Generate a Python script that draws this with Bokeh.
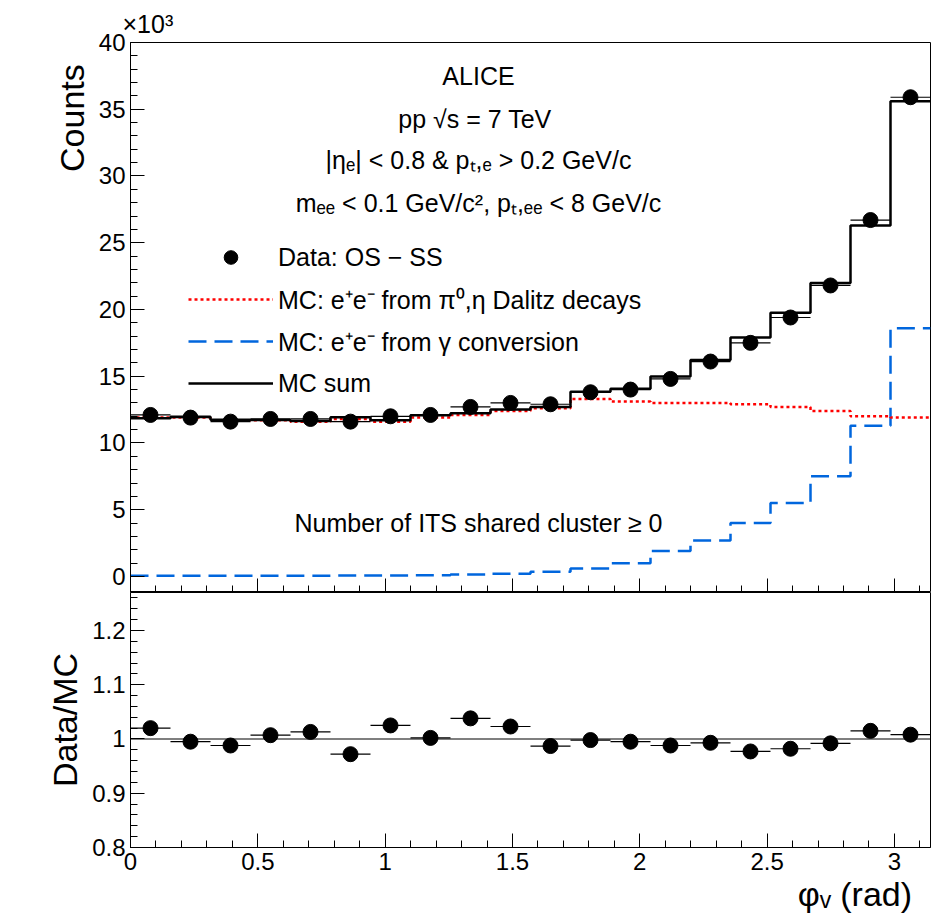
import numpy as np
from bokeh.plotting import figure
from bokeh.layouts import column
from bokeh.models import Label, Legend, LegendItem, Span, FixedTicker, Range1d
from bokeh.embed import file_html
from bokeh.resources import INLINE

data = [12.1, 11.9, 11.6, 11.8, 11.8, 11.6, 12.0, 12.1, 12.7, 13.0, 12.9, 13.8, 14.0, 14.8, 16.1, 17.5, 19.4, 21.8, 26.7, 35.9]
mcsum = [11.86, 11.96, 11.74, 11.72, 11.65, 11.93, 11.71, 12.08, 12.23, 12.5, 12.7, 13.83, 14.07, 14.98, 16.21, 17.91, 19.76, 21.98, 26.3, 35.6]
dalitz = [11.9, 11.9, 11.7, 11.7, 11.6, 11.8, 11.6, 11.9, 12.1, 12.4, 12.6, 13.3, 13.1, 13.0, 13.0, 12.9, 12.7, 12.4, 12.0, 11.9]
conv = [0.05, 0.05, 0.05, 0.05, 0.06, 0.07, 0.08, 0.1, 0.15, 0.2, 0.35, 0.6, 1.0, 1.9, 2.7, 4.0, 5.5, 7.5, 11.3, 18.6]
ratio = [1.02, 0.995, 0.988, 1.007, 1.013, 0.972, 1.025, 1.002, 1.038, 1.023, 0.987, 0.998, 0.995, 0.988, 0.993, 0.977, 0.982, 0.992, 1.015, 1.008]

nb = 20
edges = np.linspace(0, np.pi, nb + 1)
cent = 0.5 * (edges[1:] + edges[:-1])
FONT = "Liberation Sans"
NB = "\u00a0"

def steps(v):
    return np.repeat(edges, 2)[1:-1], np.repeat(np.array(v), 2)

def style(p, ticks):
    p.xaxis.ticker = FixedTicker(ticks=[0, 0.5, 1, 1.5, 2, 2.5, 3], minor_ticks=list(np.arange(0, 3.15, 0.1)))
    p.yaxis.ticker = FixedTicker(ticks=ticks[0], minor_ticks=ticks[1])
    for ax in p.axis:
        ax.major_label_text_font = FONT
        ax.major_label_text_font_size = "24px"
        ax.major_label_text_color = "black"
        ax.axis_label_text_font = FONT
        ax.axis_label_text_font_style = "normal"
        ax.axis_label_text_font_size = "34px"
        ax.axis_label_text_color = "black"
        ax.major_tick_in = 14; ax.major_tick_out = 0
        ax.minor_tick_in = 7; ax.minor_tick_out = 0
        ax.axis_line_color = "black"
        ax.major_tick_line_color = "black"
        ax.minor_tick_line_color = "black"
    p.grid.visible = False
    p.outline_line_color = "black"
    p.background_fill_color = "white"
    p.border_fill_color = "white"

# upper
p = figure(width=940, height=592, x_range=Range1d(0, np.pi), y_range=Range1d(-1.2, 40),
           output_backend="svg", toolbar_location=None, title="×10³",
           min_border_left=130, min_border_right=10, min_border_top=42, min_border_bottom=0)
p.title.text_font = FONT
p.title.text_font_size = "25px"
p.title.text_font_style = "normal"
p.title.text_color = "black"
p.title.offset = -8
style(p, ([0, 5, 10, 15, 20, 25, 30, 35, 40], list(np.arange(0, 40.1, 1))))
p.xaxis.major_label_text_font_size = "0px"
p.yaxis.axis_label = "Counts" + NB * 16
p.yaxis.axis_label_align = "end"

x, y = steps(conv)
r_conv = p.line(x, y, line_color="#0066dd", line_width=2.5, line_dash="18 8")
x, y = steps(dalitz)
r_dal = p.line(x, y, line_color="#ff0000", line_width=2.5, line_dash="3 3")
x, y = steps(mcsum)
r_sum = p.line(x, y, line_color="black", line_width=2.5)
p.segment(x0=edges[:-1], x1=edges[1:], y0=data, y1=data, line_color="black", line_width=1.2)
r_dat = p.scatter(cent, data, size=15, color="black")

leg = Legend(items=[LegendItem(label="Data: OS − SS", renderers=[r_dat]),
                    LegendItem(label="MC: e⁺e⁻ from π⁰,η Dalitz decays", renderers=[r_dal]),
                    LegendItem(label="MC: e⁺e⁻ from γ conversion", renderers=[r_conv]),
                    LegendItem(label="MC sum", renderers=[r_sum])],
             location=(48, 182), background_fill_alpha=0, border_line_alpha=0,
             label_text_font=FONT, label_text_font_size="25px", glyph_width=85,
             spacing=8, label_height=34, glyph_height=34, label_text_color="black")
p.add_layout(leg, "center")

def lab(fig, x, y, t, size="25px", align="center"):
    fig.add_layout(Label(x=x, y=y, text=t, x_units="screen", y_units="screen", text_font=FONT,
                         text_font_size=size, text_align=align, text_baseline="middle", text_color="black"))

lab(p, 348, 517, "ALICE")
lab(p, 348, 474, "pp  √s = 7 TeV")
lab(p, 348, 433, "|ηₑ| < 0.8 & pₜ,ₑ > 0.2 GeV/c")
lab(p, 348, 390, "mₑₑ < 0.1 GeV/c², pₜ,ₑₑ < 8 GeV/c")
lab(p, 348, 70, "Number of ITS shared cluster ≥ 0")

# lower
q = figure(width=940, height=323, x_range=p.x_range, y_range=Range1d(0.8, 1.27),
           output_backend="svg", toolbar_location=None,
           min_border_left=130, min_border_right=10, min_border_top=0, min_border_bottom=55)
style(q, ([0.8, 0.9, 1.0, 1.1, 1.2], list(np.arange(0.8, 1.27, 0.02))))
q.yaxis.axis_label = "Data/MC"
q.xaxis.axis_label = "φᵥ (rad)" + NB * 16
q.xaxis.axis_label_align = "end"
q.xaxis.axis_label_standoff = 2
q.add_layout(Span(location=1.0, dimension="width", line_color="black", line_width=1.2))
q.segment(x0=edges[:-1], x1=edges[1:], y0=ratio, y1=ratio, line_color="black", line_width=1.2)
q.scatter(cent, ratio, size=15, color="black")

page = column(p, q, spacing=0)
open("out.html", "w").write(file_html(page, INLINE))
